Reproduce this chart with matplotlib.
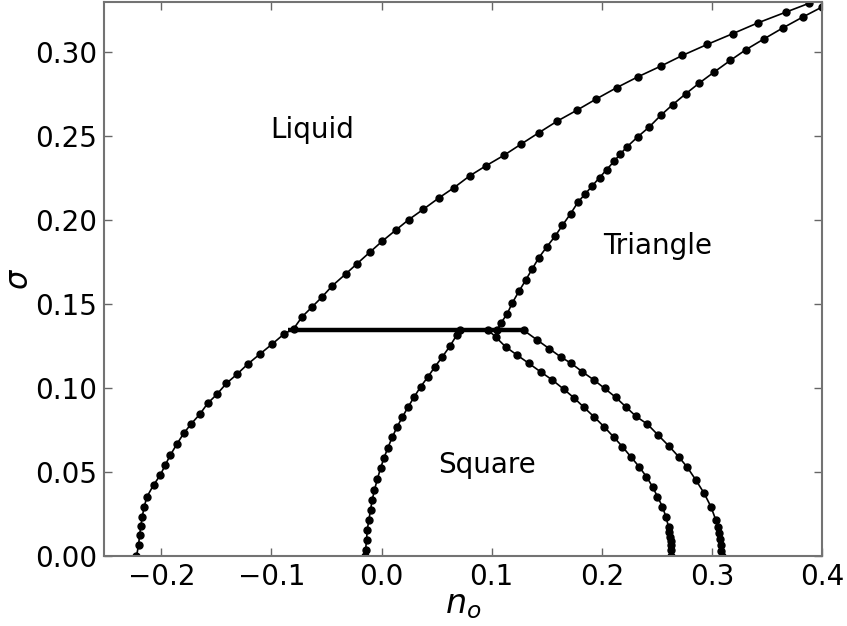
import matplotlib
matplotlib.use("Agg")
import matplotlib.pyplot as plt

# liquid boundary: lower branch (liquid/square) then upper branch (liquid/triangle)
liquid_n = [-0.2225, -0.2206, -0.2197, -0.2185, -0.2173, -0.2155, -0.2130, -0.2070,
            -0.2009, -0.1964, -0.1918, -0.1858, -0.1797, -0.1730, -0.1652, -0.1579,
            -0.1494, -0.1409, -0.1312, -0.1215, -0.1106, -0.0994, -0.0888, -0.0797,
            -0.0721, -0.0630, -0.0540, -0.0448, -0.0327, -0.0221, -0.0109, 0.0006,
            0.0127, 0.0248, 0.0379, 0.0521, 0.0658, 0.0800, 0.0945, 0.1112, 0.1264,
            0.1430, 0.1597, 0.1773, 0.1949, 0.2136, 0.2330, 0.2536, 0.2733, 0.2960,
            0.3188, 0.3415, 0.3673, 0.3885, 0.4000]
liquid_s = [0.0000, 0.0065, 0.0125, 0.0180, 0.0234, 0.0294, 0.0353, 0.0423,
            0.0482, 0.0542, 0.0601, 0.0667, 0.0730, 0.0786, 0.0843, 0.0909,
            0.0964, 0.1028, 0.1083, 0.1143, 0.1202, 0.1262, 0.1321, 0.1355,
            0.1425, 0.1484, 0.1543, 0.1609, 0.1679, 0.1742, 0.1808, 0.1875,
            0.1940, 0.2004, 0.2065, 0.2133, 0.2194, 0.2264, 0.2323, 0.2387, 0.2452,
            0.2522, 0.2591, 0.2655, 0.2722, 0.2790, 0.2855, 0.2918, 0.2982, 0.3048,
            0.3111, 0.3175, 0.3240, 0.3293, 0.3320]

# triangle phase boundary
tri_n = [0.1050, 0.1082, 0.1142, 0.1188, 0.1248, 0.1309, 0.1370, 0.1430, 0.1500,
         0.1576, 0.1643, 0.1718, 0.1785, 0.1850, 0.1915, 0.1980, 0.2045, 0.2110,
         0.2165, 0.2227, 0.2325, 0.2430, 0.2536, 0.2643, 0.2764, 0.2885, 0.3021,
         0.3167, 0.3309, 0.3470, 0.3643, 0.3824, 0.4000]
tri_s = [0.1345, 0.1385, 0.1444, 0.1508, 0.1577, 0.1643, 0.1712, 0.1778, 0.1841,
         0.1905, 0.1970, 0.2040, 0.2109, 0.2157, 0.2206, 0.2254, 0.2302, 0.2350,
         0.2392, 0.2436, 0.2496, 0.2555, 0.2625, 0.2688, 0.2754, 0.2817, 0.2883,
         0.2952, 0.3016, 0.3079, 0.3145, 0.3210, 0.3270]

# square phase, left boundary
sq_left_n = [-0.0150, -0.0145, -0.0136, -0.0130, -0.0115, -0.0100, -0.0085, -0.0064,
             -0.0039, -0.0009, 0.0021, 0.0058, 0.0097, 0.0142, 0.0188, 0.0239,
             0.0294, 0.0355, 0.0421, 0.0485, 0.0552, 0.0621, 0.0682, 0.0710]
sq_left_s = [0.0000, 0.0036, 0.0095, 0.0155, 0.0214, 0.0274, 0.0333, 0.0393,
             0.0456, 0.0522, 0.0582, 0.0645, 0.0707, 0.0770, 0.0826, 0.0885,
             0.0945, 0.1008, 0.1067, 0.1127, 0.1186, 0.1250, 0.1315, 0.1345]

# square phase, inner right boundary
sq_in_n = [0.0970, 0.1036, 0.1127, 0.1233, 0.1339, 0.1445, 0.1552, 0.1658, 0.1748,
           0.1839, 0.1930, 0.2021, 0.2112, 0.2188, 0.2264, 0.2339, 0.2406, 0.2461,
           0.2506, 0.2551, 0.2582, 0.2606, 0.2615, 0.2621, 0.2625, 0.2627, 0.2630,
           0.2633]
sq_in_s = [0.1345, 0.1305, 0.1246, 0.1196, 0.1147, 0.1097, 0.1048, 0.0992, 0.0942,
           0.0885, 0.0829, 0.0770, 0.0706, 0.0651, 0.0591, 0.0532, 0.0472, 0.0413,
           0.0353, 0.0294, 0.0234, 0.0175, 0.0145, 0.0115, 0.0090, 0.0065, 0.0035,
           0.0000]

# square phase, outer right boundary
sq_out_n = [0.1290, 0.1415, 0.1521, 0.1627, 0.1724, 0.1824, 0.1930, 0.2027, 0.2127,
            0.2218, 0.2309, 0.2415, 0.2515, 0.2610, 0.2700, 0.2775, 0.2855, 0.2930,
            0.2991, 0.3036, 0.3052, 0.3067, 0.3076, 0.3082, 0.3086, 0.3088]
sq_out_s = [0.1345, 0.1286, 0.1236, 0.1186, 0.1147, 0.1097, 0.1048, 0.0998, 0.0945,
            0.0889, 0.0833, 0.0785, 0.0718, 0.0655, 0.0590, 0.0530, 0.0452, 0.0373,
            0.0294, 0.0214, 0.0175, 0.0135, 0.0100, 0.0065, 0.0032, 0.0000]

# three-phase coexistence line
tie_n = [-0.0850, 0.1300]
tie_s = [0.1345, 0.1345]

fig = plt.figure(figsize=(8.47, 6.26), dpi=100)
ax = fig.add_axes([0.1228, 0.1118, 0.8477, 0.885])

style = dict(color='k', marker='o', markersize=5, lw=1.2)
ax.plot(liquid_n, liquid_s, **style)
ax.plot(tri_n, tri_s, **style)
ax.plot(sq_left_n, sq_left_s, **style)
ax.plot(sq_in_n, sq_in_s, **style)
ax.plot(sq_out_n, sq_out_s, **style)
ax.plot(tie_n, tie_s, color='k', lw=3.2, solid_capstyle='butt')

ax.text(-0.0627, 0.2536, 'Liquid', fontsize=20, ha='center', va='center')
ax.text(0.251, 0.1845, 'Triangle', fontsize=20, ha='center', va='center')
ax.text(0.0955, 0.054, 'Square', fontsize=20, ha='center', va='center')

ax.set_xlim(-0.252, 0.4)
ax.set_ylim(0, 0.33)
ax.set_xticks([-0.2, -0.1, 0.0, 0.1, 0.2, 0.3, 0.4])
ax.set_yticks([0.0, 0.05, 0.10, 0.15, 0.20, 0.25, 0.30])
ax.set_xticklabels(['\u22120.2', '\u22120.1', '0.0', '0.1', '0.2', '0.3', '0.4'])
ax.set_yticklabels(['0.00', '0.05', '0.10', '0.15', '0.20', '0.25', '0.30'])
ax.tick_params(direction='in', top=True, right=True, length=6, width=1,
               color='0.4', labelsize=20, pad=5)
for sp in ax.spines.values():
    sp.set_color('0.45')
    sp.set_linewidth(1.5)

ax.set_xlabel('$n_o$', fontsize=24, labelpad=-2)
ax.set_ylabel('$\\sigma$', fontsize=22, labelpad=1)

fig.savefig('out.png', dpi=100)
